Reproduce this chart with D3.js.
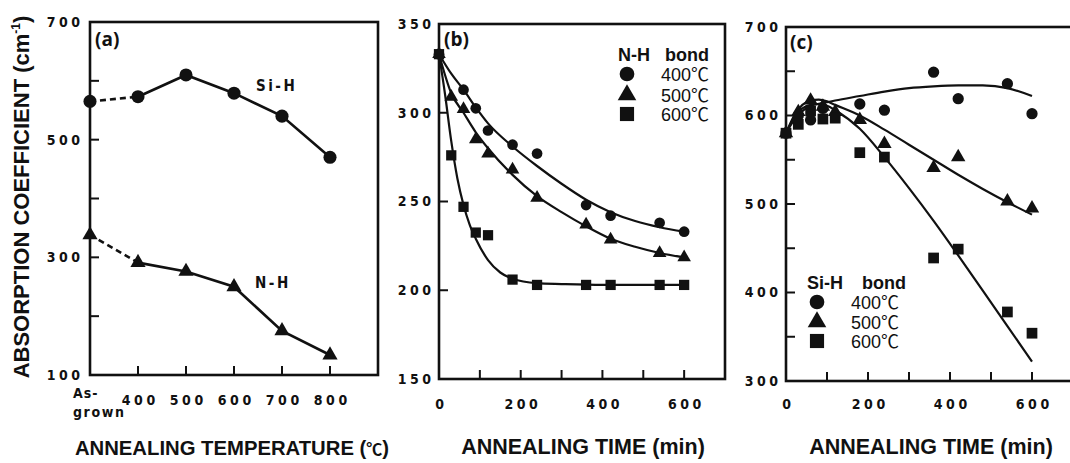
<!DOCTYPE html>
<html>
<head>
<meta charset="utf-8">
<script src="https://cdn.jsdelivr.net/npm/d3@7"></script>
<style>
  body { margin: 0; background: #fff; }
  svg { display: block; }
</style>
</head>
<body>
<svg id="chart" width="1070" height="463"></svg>
<script>
// ---------- (a) absorption coefficient vs annealing temperature ----------
const tempCategories = ["As-grown", "400", "500", "600", "700", "800"];
const siHByTemp = [565, 573, 610, 579, 540, 470];
const nHByTemp  = [338, 291, 276, 250, 175, 134];
const yTicksA  = [200, 300, 400, 500, 600];
const yLabelsA = [100, 300, 500, 700];

// ---------- (b) N-H bond vs annealing time ----------
const nh400Time = [0, 60, 90, 120, 180, 240, 360, 420, 540, 600];
const nh400Val  = [333, 313, 302.5, 290, 282, 277, 248, 242, 238, 233];
const nh500Time = [0, 30, 60, 90, 120, 180, 240, 360, 420, 540, 600];
const nh500Val  = [333, 309, 302, 285, 277, 268, 252, 237, 228.5, 221, 218.5];
const nh600Time = [0, 30, 60, 90, 120, 180, 240, 360, 420, 540, 600];
const nh600Val  = [333, 276, 247, 232.5, 231, 206, 203, 203, 203, 203, 203];
// fitted trend curves for (b)
const nh400FitTime = [0, 30, 60, 90, 120, 180, 240, 300, 360, 420, 480, 540, 600];
const nh400FitVal  = [333, 322, 313, 303, 294, 281, 270, 260, 251, 244, 239, 235.5, 233];
const nh500FitTime = [0, 30, 60, 90, 120, 180, 240, 300, 360, 420, 480, 540, 600];
const nh500FitVal  = [333, 311, 300, 289, 280, 265, 253, 244, 236, 229, 224.5, 221, 218.5];
const nh600FitTime = [0, 15, 30, 45, 60, 75, 90, 120, 150, 180, 240, 300, 400, 600];
const nh600FitVal  = [333, 310, 284, 263, 248, 237, 229, 217, 210, 206.5, 204, 203.5, 203, 203];
const yTicksB = [150, 200, 250, 300, 350];
const timeTicks  = [100, 200, 300, 400, 500, 600];
const timeLabels = [0, 200, 400, 600];

// ---------- (c) Si-H bond vs annealing time ----------
const sh400Time = [0, 30, 60, 90, 180, 240, 360, 420, 540, 600];
const sh400Val  = [580, 600, 595, 608, 613, 606, 649, 619, 636, 602];
const sh500Time = [0, 30, 60, 90, 120, 180, 240, 360, 420, 540, 600];
const sh500Val  = [580, 604, 617, 610, 604, 595, 568, 541, 553, 503, 495];
const sh600Time = [0, 30, 60, 90, 120, 180, 240, 360, 420, 540, 600];
const sh600Val  = [580, 590, 605, 596, 597, 558, 553, 439, 449, 378, 354];
const sh400FitTime = [0, 20, 40, 60, 90, 120, 180, 240, 300, 360, 420, 480, 540, 600];
const sh400FitVal  = [580, 595, 605, 611, 614, 617, 622, 627, 631, 633, 634, 634, 631, 622];
const sh500FitTime = [0, 20, 40, 60, 80, 100, 120, 180, 240, 300, 360, 420, 480, 540, 600];
const sh500FitVal  = [580, 600, 612, 617, 618, 616, 612, 600, 584, 567, 550, 533, 517, 502, 488];
const sh600FitTime = [0, 20, 40, 60, 80, 100, 120, 180, 240, 300, 360, 420, 480, 540, 600];
const sh600FitVal  = [580, 598, 608, 612, 613, 611, 606, 585, 553, 518, 481, 442, 402, 362, 322];
const yTicksC  = [350, 400, 450, 500, 550, 600, 650];
const yLabelsC = [300, 400, 500, 600, 700];

const legendTemps = ["400℃", "500℃", "600℃"];

// ---------- styling ----------
const tickFont = "'DejaVu Sans Condensed', 'Liberation Sans Narrow', 'DejaVu Sans', sans-serif";
const textFont = "'Liberation Sans', Arial, 'Noto Sans CJK SC', sans-serif";
const LS = 3.5; // letter spacing of tick numerals

const svg = d3.select("#chart");
svg.append("rect").attr("width", 1070).attr("height", 463).attr("fill", "#fff");

const shapes = {
  circle: d3.symbolCircle,
  triangle: d3.symbolTriangle,
  square: d3.symbolSquare
};

function styleTickText(sel) {
  sel.attr("font-family", tickFont)
     .attr("font-stretch", "condensed")
     .attr("font-weight", "bold")
     .attr("font-size", 14)
     .attr("letter-spacing", LS)
     .attr("fill", "#111");
}

function drawFrame(x, y) {
  const [x0, x1] = x.range();
  const [y0, y1] = y.range(); // y0 bottom, y1 top
  svg.append("rect")
    .attr("x", x0).attr("y", y1)
    .attr("width", x1 - x0).attr("height", y0 - y1)
    .attr("fill", "none").attr("stroke", "#111").attr("stroke-width", 2.6);
}

function yAxis(y, left, ticks, labels, pad) {
  const g = svg.append("g").attr("transform", `translate(${left},0)`);
  g.call(d3.axisLeft(y).tickValues(ticks.concat(labels).filter((v, i, a) => a.indexOf(v) === i))
      .tickSizeInner(0).tickSizeOuter(0).tickPadding(pad)
      .tickFormat(d => labels.includes(d) ? String(d) : ""));
  g.select(".domain").remove();
  g.selectAll("line").remove();
  g.selectAll("text").call(styleTickText);
  // inward ticks
  svg.append("g").selectAll("line").data(ticks).join("line")
    .attr("x1", left).attr("x2", left + 9)
    .attr("y1", d => y(d)).attr("y2", d => y(d))
    .attr("stroke", "#111").attr("stroke-width", 2);
}

function xAxisTime(x, bottom, pad) {
  const g = svg.append("g").attr("transform", `translate(0,${bottom})`);
  g.call(d3.axisBottom(x).tickValues(timeLabels).tickSizeInner(0).tickSizeOuter(0)
      .tickPadding(pad).tickFormat(d => String(d)));
  g.select(".domain").remove();
  g.selectAll("line").remove();
  g.selectAll("text").call(styleTickText).attr("dx", LS / 2);
  svg.append("g").selectAll("line").data(timeTicks).join("line")
    .attr("x1", d => x(d)).attr("x2", d => x(d))
    .attr("y1", bottom).attr("y2", bottom - 9)
    .attr("stroke", "#111").attr("stroke-width", 2);
}

function markers(x, y, xs, vs, shape, size) {
  svg.append("g").selectAll("path").data(vs).join("path")
    .attr("transform", (d, i) => `translate(${x(xs[i])},${y(d)})`)
    .attr("d", d3.symbol(shapes[shape], size))
    .attr("fill", "#111");
}

function curve(x, y, xs, vs, width) {
  const pts = vs.map((v, i) => [xs[i], v]);
  svg.append("path")
    .attr("d", d3.line().x(d => x(d[0])).y(d => y(d[1])).curve(d3.curveMonotoneX)(pts))
    .attr("fill", "none").attr("stroke", "#111").attr("stroke-width", width);
}

function panelLabel(txt, x, y) {
  svg.append("text").text(txt).attr("x", x).attr("y", y)
    .attr("font-family", "'Open Sans', 'Liberation Sans', sans-serif")
    .attr("font-weight", "bold").attr("font-size", 19).attr("fill", "#111");
}

function axisTitle(txt, cx, baseline, size = 21.5) {
  return svg.append("text").text(txt).attr("x", cx).attr("y", baseline)
    .attr("text-anchor", "middle")
    .attr("font-family", textFont).attr("font-weight", "bold")
    .attr("font-size", size).attr("fill", "#111");
}

function legend(header, yHead, symX, textX, rows) {
  header.forEach(([txt, hx]) => {
    svg.append("text").text(txt).attr("x", hx).attr("y", yHead)
      .attr("font-family", textFont).attr("font-weight", "bold")
      .attr("font-size", 18).attr("fill", "#111");
  });
  const shapeList = ["circle", "triangle", "square"];
  const sizes = [170, 150, 200];
  rows.forEach((ry, i) => {
    svg.append("path")
      .attr("transform", `translate(${symX},${ry})`)
      .attr("d", d3.symbol(shapes[shapeList[i]], sizes[i]))
      .attr("fill", "#111");
    svg.append("text").text(legendTemps[i]).attr("x", textX).attr("y", ry + 6.5)
      .attr("font-family", textFont).attr("font-size", 18).attr("fill", "#111");
  });
}

// ================= Panel (a) =================
const xA = d3.scalePoint().domain(tempCategories).range([90, 330]);
const xAEnd = 90 + xA.step() * tempCategories.length;
const yA = d3.scaleLinear().domain([100, 700]).range([375, 22]);
drawFrame(d3.scaleLinear().range([90, xAEnd]), yA);
yAxis(yA, 90, yTicksA, yLabelsA, 10 - LS);

// x ticks and labels
svg.append("g").selectAll("line").data(tempCategories.slice(1)).join("line")
  .attr("x1", d => xA(d)).attr("x2", d => xA(d))
  .attr("y1", 375).attr("y2", 366).attr("stroke", "#111").attr("stroke-width", 2);
{
  const g = svg.append("g").attr("transform", "translate(0,375)");
  g.call(d3.axisBottom(xA).tickValues(tempCategories.slice(1)).tickSizeInner(0)
      .tickSizeOuter(0).tickPadding(20));
  g.select(".domain").remove();
  g.selectAll("line").remove();
  g.selectAll("text").call(styleTickText).attr("dx", LS / 2);
  svg.append("text").text("As-").attr("x", 73).attr("y", 398).call(styleTickText)
    .attr("letter-spacing", 1).attr("font-size", 14);
  svg.append("text").text("grown").attr("x", 73).attr("y", 417).call(styleTickText)
    .attr("letter-spacing", 1.6).attr("font-size", 14);
}

// series lines: dashed from as-grown to first anneal, solid afterwards
function seriesA(vals, shape, size) {
  const pts = vals.map((v, i) => [tempCategories[i], v]);
  const line = d3.line().x(d => xA(d[0])).y(d => yA(d[1]));
  svg.append("path").attr("d", line(pts.slice(0, 2)))
    .attr("fill", "none").attr("stroke", "#111").attr("stroke-width", 2.6)
    .attr("stroke-dasharray", "6,4");
  svg.append("path").attr("d", line(pts.slice(1)))
    .attr("fill", "none").attr("stroke", "#111").attr("stroke-width", 2.6);
  markers(xA, yA, tempCategories, vals, shape, size);
}
seriesA(siHByTemp, "circle", 135);
seriesA(nHByTemp, "triangle", 100);

function seriesLabel(txt, x, y) {
  svg.append("text").text(txt).attr("x", x).attr("y", y).call(styleTickText)
    .attr("letter-spacing", 2.5).attr("font-size", 15);
}
seriesLabel("Si-H", 256, 91);
seriesLabel("N-H", 255, 288);

panelLabel("(a)", 95, 46);
axisTitle("ANNEALING TEMPERATURE (", 232, 455, 20.3)
  .call(t => {
    t.append("tspan").text("℃").attr("font-size", 16);
    t.append("tspan").text(")");
  });

// y-axis title shared by the row
svg.append("text")
  .attr("transform", "translate(29,197) rotate(-90)")
  .attr("text-anchor", "middle")
  .attr("font-family", textFont).attr("font-weight", "bold")
  .attr("font-size", 22).attr("fill", "#111")
  .call(t => {
    t.append("tspan").text("ABSORPTION COEFFICIENT (cm");
    t.append("tspan").text("-1").attr("font-size", 12).attr("dy", -9);
    t.append("tspan").text(")").attr("dy", 9);
  });

// ================= Panel (b) =================
const xB = d3.scaleLinear().domain([0, 700]).range([439, 725]);
const yB = d3.scaleLinear().domain([150, 350]).range([379, 24]);
drawFrame(xB, yB);
yAxis(yB, 439, [200, 250, 300], yTicksB, 8 - LS);
xAxisTime(xB, 379, 20);

curve(xB, yB, nh400FitTime, nh400FitVal, 2.2);
curve(xB, yB, nh500FitTime, nh500FitVal, 2.2);
curve(xB, yB, nh600FitTime, nh600FitVal, 2.2);
markers(xB, yB, nh400Time, nh400Val, "circle", 90);
markers(xB, yB, nh500Time, nh500Val, "triangle", 80);
markers(xB, yB, nh600Time, nh600Val, "square", 105);

panelLabel("(b)", 444, 46);
legend([["N-H", 618], ["bond", 665]], 61, 627, 661, [74, 95, 114]);
axisTitle("ANNEALING TIME (min)", 583, 454);

// ================= Panel (c) =================
const xC = d3.scaleLinear().domain([0, 700]).range([786, 1073]);
const yC = d3.scaleLinear().domain([300, 700]).range([381, 27]);
drawFrame(xC, yC);
yAxis(yC, 786, yTicksC, yLabelsC, 8 - LS);
xAxisTime(xC, 381, 18);

curve(xC, yC, sh400FitTime, sh400FitVal, 2.2);
curve(xC, yC, sh500FitTime, sh500FitVal, 2.2);
curve(xC, yC, sh600FitTime, sh600FitVal, 2.2);
markers(xC, yC, sh400Time, sh400Val, "circle", 100);
markers(xC, yC, sh500Time, sh500Val, "triangle", 90);
markers(xC, yC, sh600Time, sh600Val, "square", 115);

panelLabel("(c)", 790, 49);
legend([["Si-H", 807], ["bond", 862]], 289, 817, 851, [302, 322, 341]);
axisTitle("ANNEALING TIME (min)", 931, 454);
</script>
</body>
</html>
